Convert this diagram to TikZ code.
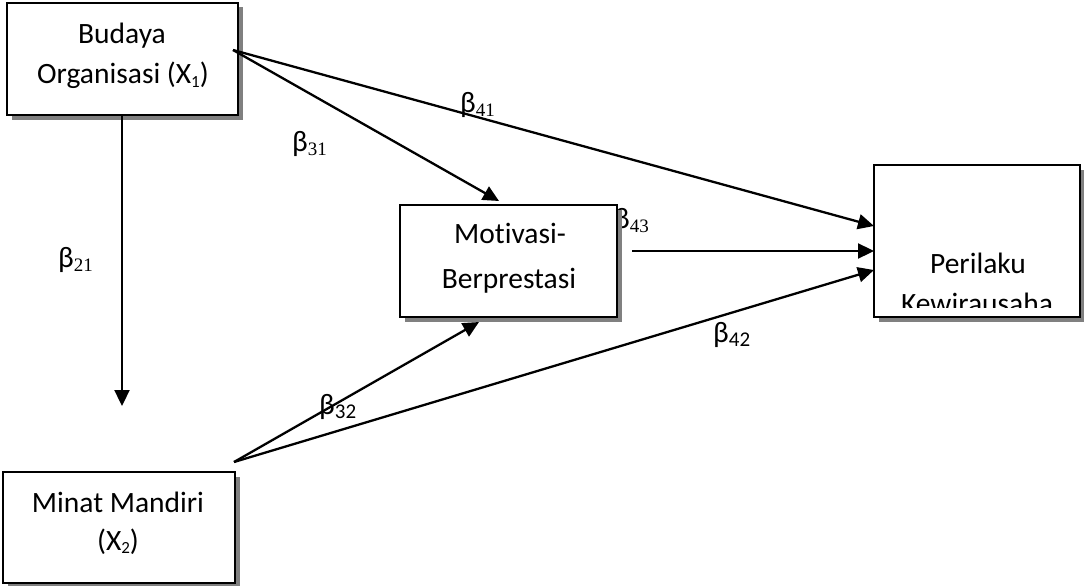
\documentclass[tikz,border=0pt]{standalone}
\usepackage{fontspec}
\setmainfont{Carlito}[RawFeature=-liga]
\newfontfamily\serifdigits{Liberation Serif}
\usetikzlibrary{arrows.meta,shadows}

% small index after a beta: serif or sans digits, set low
\newcommand\tsub[1]{{\raisebox{-4pt}{\fontsize{19}{19}\serifdigits #1}}}
\newcommand\ssub[1]{{\raisebox{-4pt}{\fontsize{21}{21}\selectfont #1}}}
% index inside the variable names
\newcommand\xsub[1]{{\raisebox{-3pt}{\fontsize{17}{17}\selectfont #1}}}

\tikzset{
  varbox/.style={draw=black, line width=2.2pt, fill=white, inner sep=0pt,
    drop shadow={shadow xshift=4.5pt, shadow yshift=-4.5pt, fill=black!50, opacity=1}},
  boxtext/.style={anchor=base, inner sep=0pt, font=\fontsize{29.5}{35}\selectfont},
  coef/.style={anchor=base west, inner sep=0pt, font=\fontsize{29.5}{35}\selectfont},
  path/.style={line width=2.3pt, -{Triangle[length=16pt,width=15pt]}},
}

\begin{document}
\begin{tikzpicture}[x=1pt, y=-1pt]
\useasboundingbox (0,0) rectangle (1084,586);

% coefficient that sits partly behind the mediator box
\node[coef] (b43) at (614,228) {β\tsub{43}};

% variables
\node[varbox, minimum width=231pt, minimum height=112pt] (bud) at (122.5,59) {};
\node[boxtext] (bud1) at (122,44) {Budaya};
\node[boxtext] (bud2) at (123,84) {Organisasi (X\xsub{1})};

\node[varbox, minimum width=217pt, minimum height=112pt] (mot) at (508.5,261) {};
\node[boxtext] (mot1) at (510,243) {Motivasi-};
\node[boxtext] (mot2) at (509,288) {Berprestasi};

\node[varbox, minimum width=206pt, minimum height=152pt] (per) at (977,241) {};
\begin{scope}
  \clip (876,167) rectangle (1078,307);
  \node[boxtext] (per1) at (978,273) {Perilaku};
  \node[boxtext] (per2) at (977,313) {Kewirausaha};
\end{scope}

\node[varbox, minimum width=232pt, minimum height=111pt] (min) at (119,527.5) {};
\node[boxtext] (min1) at (118,512) {Minat Mandiri};
\node[boxtext] (min2) at (118,550) {(X\xsub{2})};

% path end points
\coordinate (budOut) at (233,50);
\coordinate (budDown) at (122,115);
\coordinate (minOut) at (234,462);
\coordinate (motOut) at (632,251);
\coordinate (x2Tip) at (122,406);
\coordinate (motTop) at (499,201);
\coordinate (motBot) at (479,322);
\coordinate (perA) at (874,226);
\coordinate (perB) at (874,251);
\coordinate (perC) at (874,270);

% paths
\draw[path] (budDown) -- (x2Tip);
\draw[path] (budOut) -- (motTop);
\draw[path] (budOut) -- (perA);
\draw[path] (motOut) -- (perB);
\draw[path] (minOut) -- (motBot);
\draw[path] (minOut) -- (perC);

% coefficients
\node[coef] (b41) at (460,112) {β\tsub{41}};
\node[coef] (b31) at (292,151) {β\tsub{31}};
\node[coef] (b21) at (58,267) {β\tsub{21}};
\node[coef] (b32) at (319,414) {β\ssub{32}};
\node[coef] (b42) at (713,342) {β\ssub{42}};
\end{tikzpicture}
\end{document}
